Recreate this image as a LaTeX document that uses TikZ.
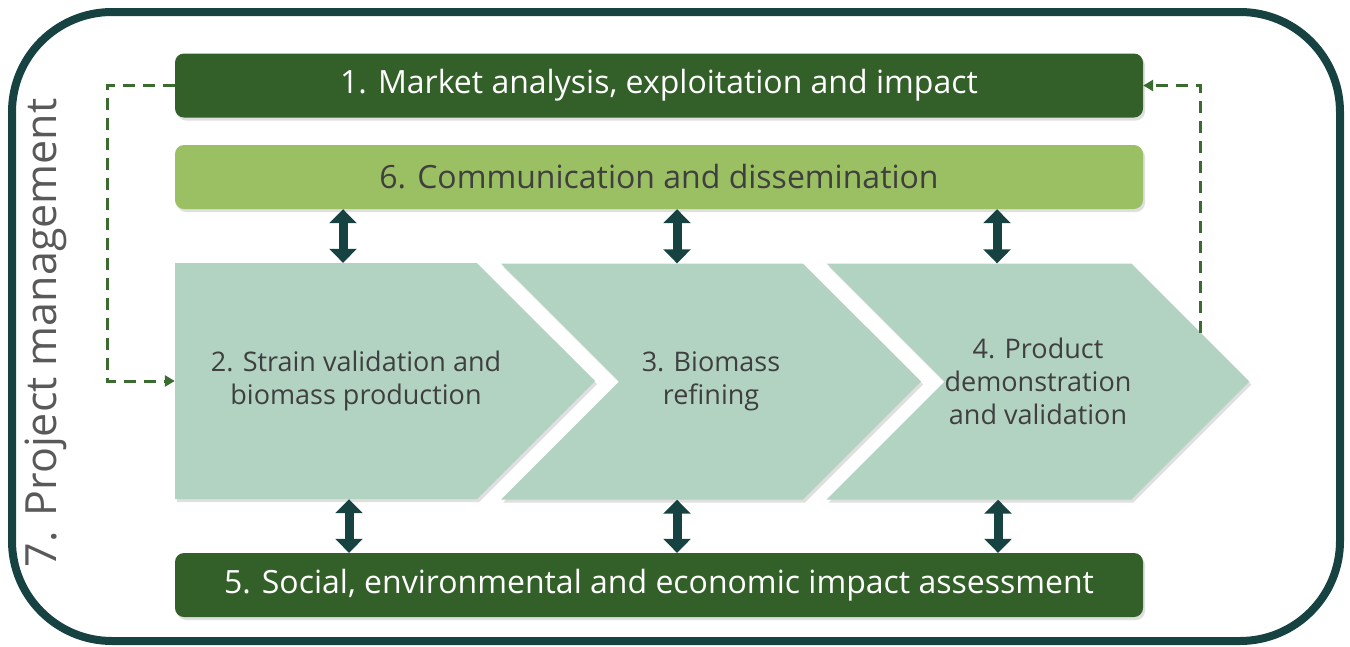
\documentclass[tikz,border=0pt]{standalone}
\usepackage{fontspec}
\setmainfont{Open Sans}
\usetikzlibrary{arrows.meta,shapes.symbols,shadows}

\definecolor{darkgreen}{HTML}{336029}
\definecolor{lightgreen}{HTML}{9BBF63}
\definecolor{mint}{HTML}{B2D3C2}
\definecolor{deepteal}{HTML}{174242}
\definecolor{dashgreen}{HTML}{3A6B2F}
\definecolor{textgray}{HTML}{3F3F3F}

\tikzset{
  softshadow/.style={drop shadow={shadow xshift=2pt,shadow yshift=-3pt,opacity=0.25}},
  bar/.style={rounded corners=9pt,minimum width=968,minimum height=64,inner sep=0,
    font=\fontsize{32}{38}\selectfont,softshadow},
  wpbar/.style={bar,fill=darkgreen,text=white},
  combar/.style={bar,fill=lightgreen,text=textgray},
  chevron/.style={signal,signal to=east,signal pointer angle=90,fill=mint,
    minimum width=420,minimum height=236,inner sep=0,softshadow,
    text=textgray,align=center,font=\fontsize{27}{33}\selectfont},
  chevtext/.style={text=textgray,align=center,font=\fontsize{27}{33}\selectfont},
  updown/.style={deepteal,line width=9pt,
    {Triangle[length=14pt,width=27pt]}-{Triangle[length=14pt,width=27pt]}},
  loopback/.style={dashgreen,line width=3pt,dash pattern=on 12pt off 8pt,
    -{Triangle[length=10pt,width=11pt]}},
}

\begin{document}
\begin{tikzpicture}[x=1pt,y=-1pt]
\useasboundingbox (0,0) rectangle (1350,646);

% frame = WP7
\draw[deepteal,line width=8pt,rounded corners=100pt] (12,12) rectangle (1340,641);
\node[rotate=90,text=black!65,font=\fontsize{43}{50}\selectfont] (pm) at (46,333) {7. Project management};

% horizontal work packages
\node[wpbar] (market) at (659,85.5) {1. Market analysis, exploitation and impact};
\node[combar] (comm) at (659,177) {6. Communication and dissemination};
\node[wpbar] (social) at (659,585) {5. Social, environmental and economic impact assessment};

% value chain (first one has a flat back, its text sits apart)
\node[chevron] (strain) at (326,381) {};
\node[chevtext] (straintext) at (356,381) {2. Strain validation and\\biomass production};
\node[chevron,signal from=west] (refine) at (711,381.5) {3. Biomass\\refining};
\node[chevron,signal from=west] (demo) at (1038,381.5) {4. Product\\demonstration\\and validation};

% links to WP6 and WP5
\coordinate (a1) at (343,0);
\coordinate (a2) at (677,0);
\coordinate (a3) at (997,0);
\coordinate (b1) at (349,0);
\coordinate (b2) at (677,0);
\coordinate (b3) at (998,0);
\draw[updown] (comm.south -| a1) -- (strain.north -| a1);
\draw[updown] (comm.south -| a2) -- (refine.north -| a2);
\draw[updown] (comm.south -| a3) -- (demo.north -| a3);
\draw[updown] (strain.south -| b1) -- (social.north -| b1);
\draw[updown] (refine.south -| b2) -- (social.north -| b2);
\draw[updown] (demo.south -| b3) -- (social.north -| b3);

% feedback loops with WP1
\coordinate (lx) at (107,0);
\coordinate (rx) at (1200,333);
\draw[loopback] (market.west) -- (market.west -| lx) |- (strain.west);
\draw[loopback] (rx) |- (market.east);
\end{tikzpicture}
\end{document}
